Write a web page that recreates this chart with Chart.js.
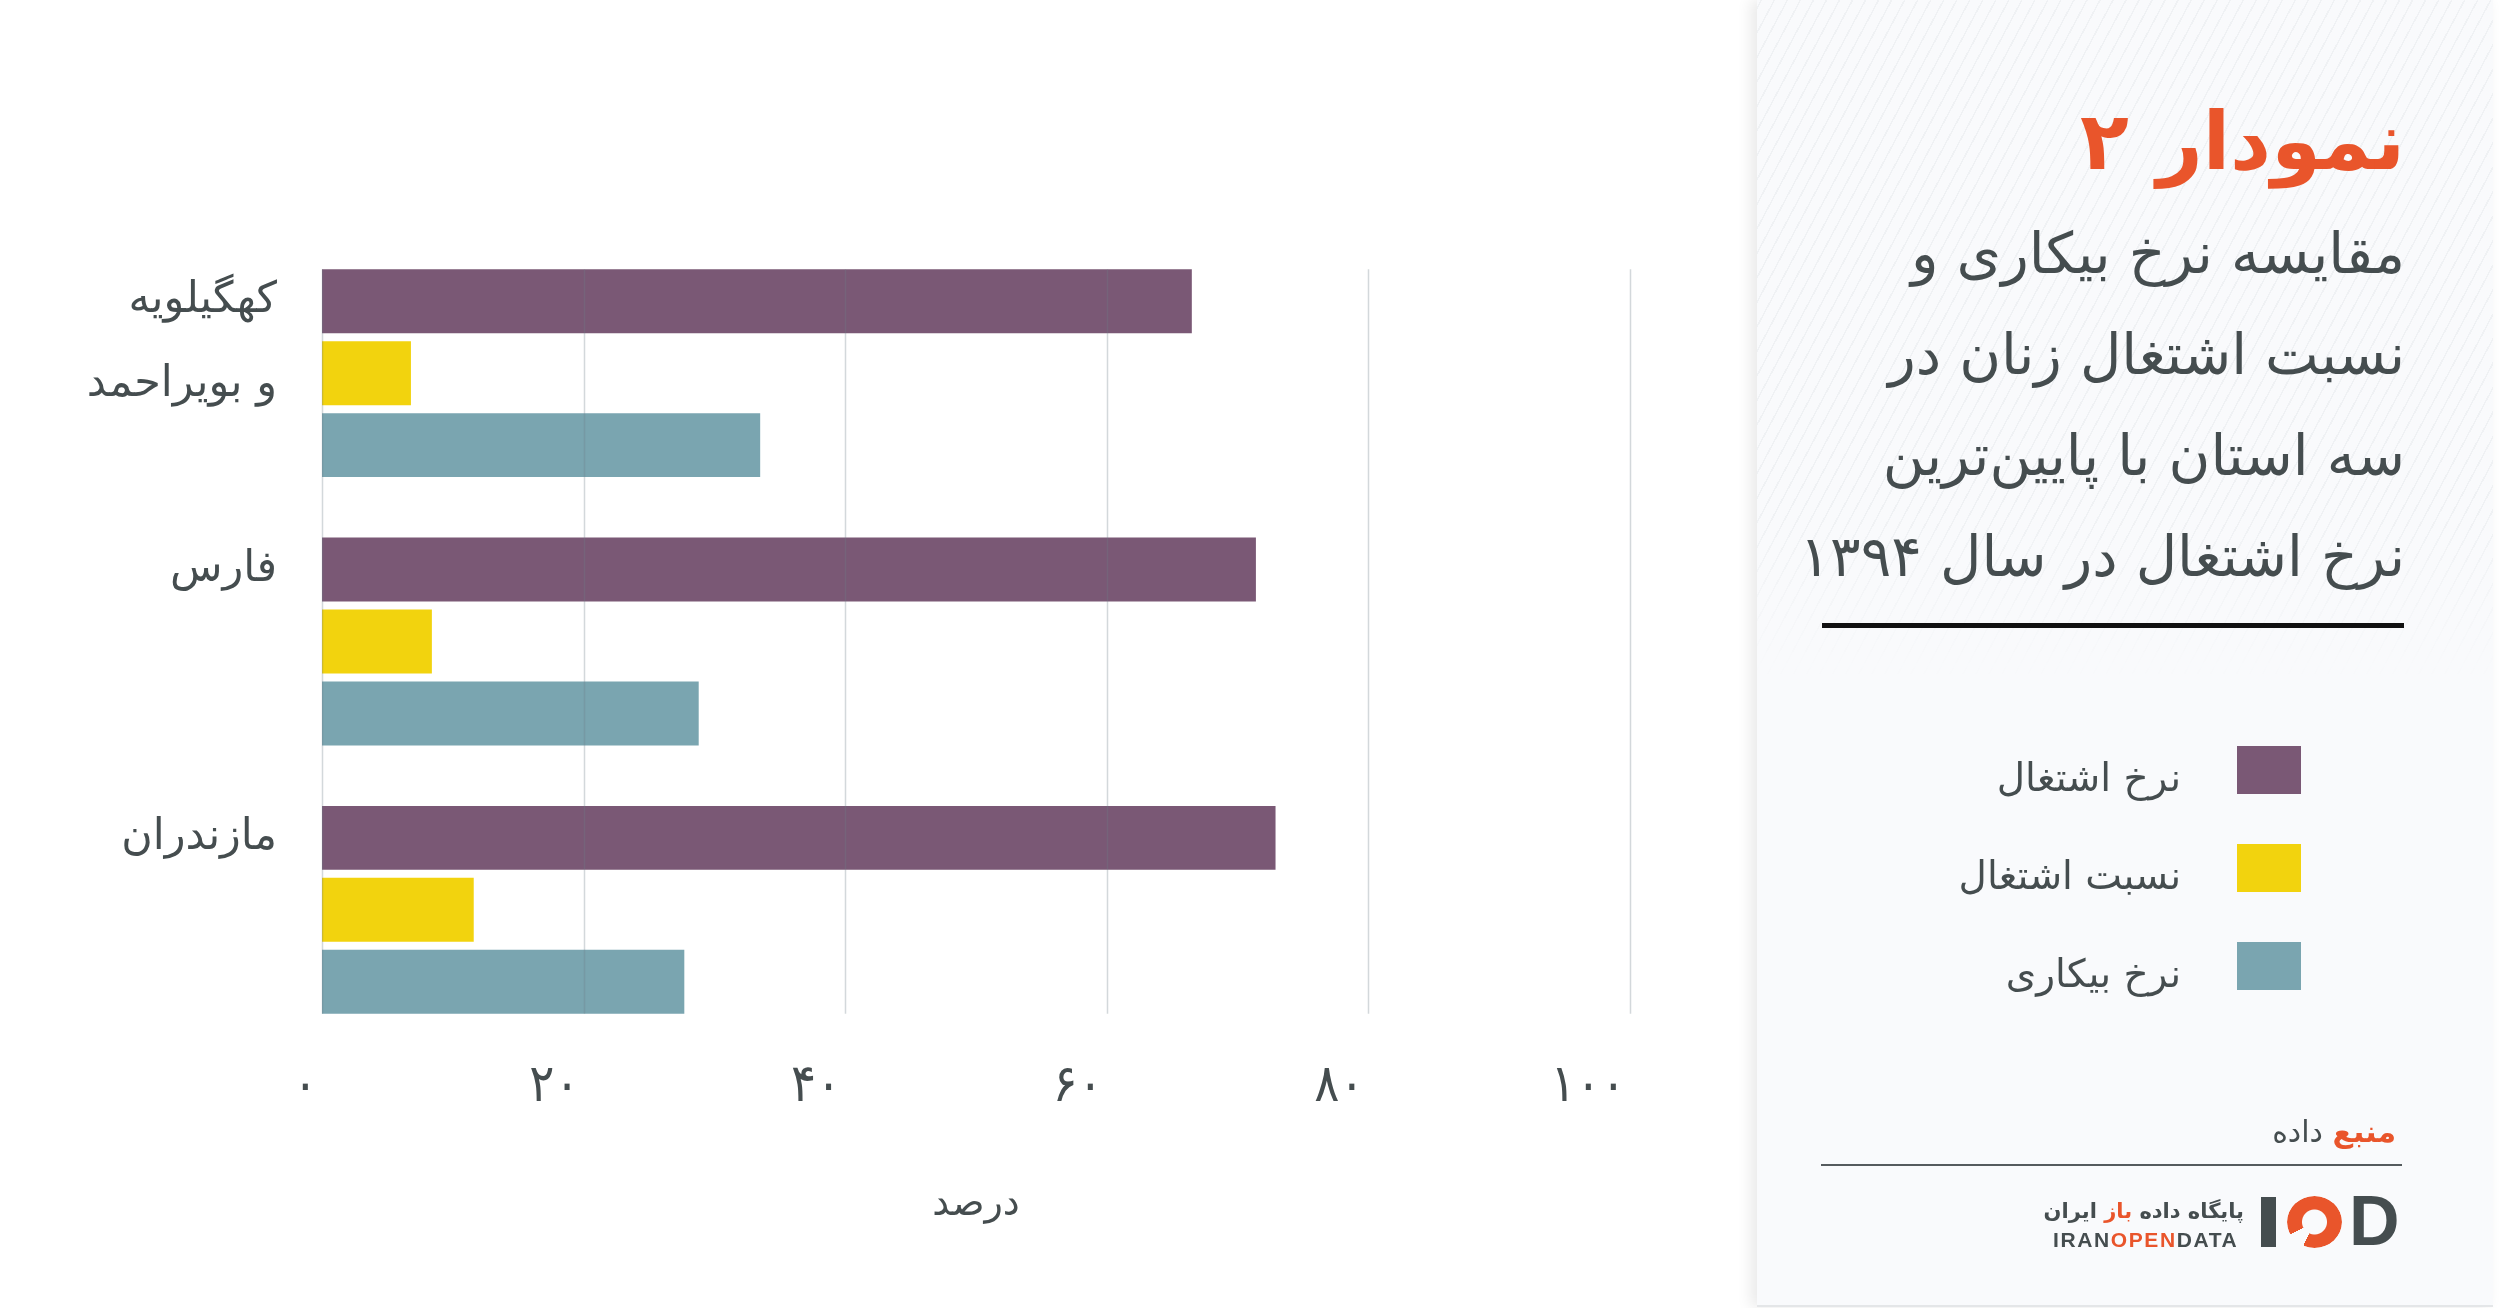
<!DOCTYPE html>
<html lang="fa">
<head>
<meta charset="utf-8">
<script src="https://cdn.jsdelivr.net/npm/chart.js@4/dist/chart.umd.min.js"></script>
<style>
  html, body { margin: 0; padding: 0; background: #fff; }
  body { width: 2500px; height: 1308px; position: relative; overflow: hidden; font-family: "DejaVu Sans", sans-serif; color: #454d4f; }
  #chartBox { position: absolute; left: 0; top: 0; width: 1735px; height: 1308px; }
  #panel { position: absolute; left: 1757px; top: 0; width: 736px; height: 1305px; background: #f9fafc;
           box-shadow: -6px 0 14px rgba(0,0,0,0.09); border-bottom: 2px solid #e4e6e8; }
  #stripes { position: absolute; left: 0; top: 0; width: 100%; height: 680px;
             background: repeating-linear-gradient(-62deg, rgba(0,0,0,0) 0 10px, rgba(90,110,120,0.06) 10px 11.5px);
             -webkit-mask-image: linear-gradient(to bottom, #000 75%, transparent 100%); }
  .rtl { direction: rtl; text-align: right; position: absolute; white-space: nowrap; }
  #title { left: 0; width: 648px; top: 92px; font-size: 80px; line-height: 100px; font-weight: bold; color: #e9552b; }
  #subtitle { left: 0; width: 648px; top: 203px; font-size: 57px; line-height: 101px; }
  #rule { position: absolute; left: 65px; width: 582px; top: 623px; height: 5px; background: #111; }
  .legRow { position: absolute; left: 0; width: 544px; height: 48px; }
  .legSwatch { position: absolute; left: 480px; top: 0; width: 64px; height: 48px; }
  .legText { position: absolute; right: 120px; top: 8px; font-size: 39px; line-height: 48px; direction: rtl; white-space: nowrap; }
  #source { right: 97px; top: 1112px; font-size: 30px; line-height: 40px; }
  #source b { color: #e9552b; }
  #srcLine { position: absolute; left: 64px; width: 581px; top: 1164px; height: 2px; background: #555b5e; }
  #logoFa { right: 249px; top: 1196px; font-size: 21px; line-height: 30px; font-weight: bold; color: #454d4f; }
  #logoFa span, #logoEn span { color: #e9552b; }
  #logoEn { position: absolute; left: 296px; top: 1229px; font-family: "Liberation Sans", sans-serif; font-weight: bold;
            font-size: 21px; line-height: 22px; letter-spacing: 1.6px; color: #454d4f; }
  #logoI { position: absolute; left: 504px; top: 1197px; width: 15px; height: 50px; background: #454d4f; }
  #logoO { position: absolute; left: 530px; top: 1196px; width: 55px; height: 52px; border-radius: 50%;
           background: conic-gradient(from 205deg, transparent 0 38deg, #e9552b 38deg 360deg);
           -webkit-mask-image: radial-gradient(circle, transparent 12px, #000 13px); }
  #logoD { position: absolute; left: 592px; top: 1183px; font-family: "Liberation Sans", sans-serif; font-weight: bold;
           font-size: 70px; line-height: 76px; color: #454d4f; }
</style>
</head>
<body>
<div id="chartBox"><canvas id="chart" width="1735" height="1308"></canvas></div>
<div id="panel">
  <div id="stripes"></div>
  <div id="title" class="rtl">نمودار ۲</div>
  <div id="subtitle" class="rtl">مقایسه نرخ بیکاری و<br>نسبت اشتغال زنان در<br>سه استان با پایین‌ترین<br>نرخ اشتغال در سال ۱۳۹۴</div>
  <div id="rule"></div>
  <div id="legend"></div>
  <div id="source" class="rtl"><b>منبع</b> داده</div>
  <div id="srcLine"></div>
  <div id="logoFa" class="rtl">پایگاه داده <span>باز</span> ایران</div>
  <div id="logoEn">IRAN<span>OPEN</span>DATA</div>
  <div id="logoI"></div>
  <div id="logoO"></div>
  <div id="logoD">D</div>
</div>
<script>
// provinces (second line empty so every label starts level with its first bar)
var provinces = [['کهگیلویه', 'و بویراحمد'], ['فارس', ''], ['مازندران', '']];
var seriesNames = ['نرخ اشتغال', 'نسبت اشتغال', 'نرخ بیکاری'];
var seriesColors = ['#7a5875', '#f2d30e', '#7aa5b0'];
var employmentRate = [66.5, 71.4, 72.9];
var employmentRatio = [6.8, 8.4, 11.6];
var unemploymentRate = [33.5, 28.8, 27.7];
var xTickLabels = ['۰', '۲۰', '۴۰', '۶۰', '۸۰', '۱۰۰'];
var axisTitle = 'درصد';

var textColor = '#454d4f';
Chart.defaults.font.family = '"DejaVu Sans", sans-serif';
Chart.defaults.color = textColor;

// legend in the side panel
var legend = document.getElementById('legend');
seriesNames.forEach(function (name, i) {
    var row = document.createElement('div');
    row.className = 'legRow';
    row.style.top = (746 + i * 98) + 'px';
    row.innerHTML = '<div class="legSwatch" style="background:' + seriesColors[i] + '"></div>' +
        '<div class="legText">' + name + '</div>';
    legend.appendChild(row);
});

// vertical grid lines only as tall as the bar block, drawn over the bars
var gridPlugin = {
    id: 'shortGrid',
    afterDatasetsDraw: function (chart) {
        var x = chart.scales.x;
        var first = chart.getDatasetMeta(0).data[0];
        var lastMeta = chart.getDatasetMeta(chart.data.datasets.length - 1);
        var last = lastMeta.data[lastMeta.data.length - 1];
        var top = first.y - first.height / 2;
        var bottom = last.y + last.height / 2;
        var c = chart.ctx;
        c.save();
        c.strokeStyle = 'rgba(110,125,135,0.3)';
        c.lineWidth = 1.5;
        x.ticks.forEach(function (t) {
            var px = Math.round(x.getPixelForValue(t.value)) + 0.5;
            c.beginPath();
            c.moveTo(px, top);
            c.lineTo(px, bottom);
            c.stroke();
        });
        c.restore();
    }
};

var datasets = [employmentRate, employmentRatio, unemploymentRate].map(function (vals, i) {
    return {
        label: seriesNames[i],
        data: vals,
        backgroundColor: seriesColors[i],
        categoryPercentage: 0.8045,
        barPercentage: 0.889
    };
});

new Chart(document.getElementById('chart'), {
    type: 'bar',
    data: { labels: provinces, datasets: datasets },
    plugins: [gridPlugin],
    options: {
        indexAxis: 'y',
        responsive: false,
        devicePixelRatio: 1,
        animation: false,
        layout: { padding: { left: 0, right: 105, top: 239, bottom: 64 } },
        plugins: { legend: { display: false }, tooltip: { enabled: false } },
        scales: {
            y: {
                grid: { display: false, drawTicks: false },
                border: { display: false },
                ticks: {
                    color: textColor,
                    padding: 45,
                    labelOffset: -30,
                    font: { size: 43, lineHeight: '84px' }
                },
                afterFit: function (s) { s.width = 322; }
            },
            x: {
                min: 0,
                max: 100,
                grid: { display: false, drawTicks: false },
                border: { display: false },
                ticks: {
                    stepSize: 20,
                    color: textColor,
                    align: 'end',
                    labelOffset: -4,
                    padding: 12,
                    font: { family: '"DejaVu Sans Condensed", "DejaVu Sans", sans-serif', size: 52 },
                    callback: function (v, i) { return xTickLabels[i]; }
                },
                title: {
                    display: true,
                    text: axisTitle,
                    color: textColor,
                    font: { size: 38 },
                    padding: { top: 0, bottom: 16 }
                },
                afterFit: function (s) { s.height = 200; }
            }
        }
    }
});
</script>
</body>
</html>
